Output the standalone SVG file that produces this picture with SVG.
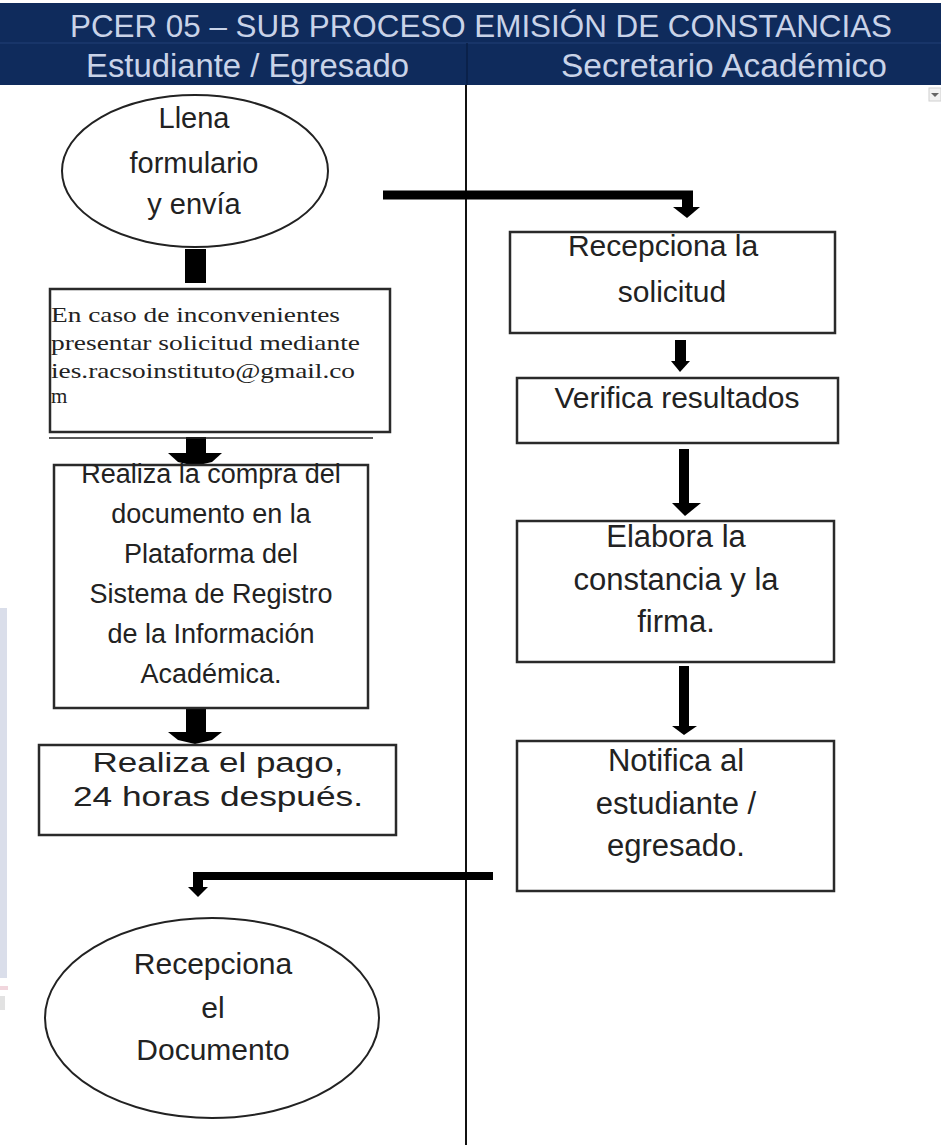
<svg xmlns="http://www.w3.org/2000/svg" width="941" height="1145" viewBox="0 0 941 1145">
<style>
.hdr{fill:#c9d3e8;font-family:"Liberation Sans",Arial,sans-serif;font-size:34px}
.ttl{font-size:32px}
.box{fill:#fff;stroke:#2a2a2a;stroke-width:2.5}
.t{fill:#222;font-family:"Liberation Sans",Arial,sans-serif;font-size:27px;text-anchor:middle}
.r{font-size:30px}
.r2{font-size:31px}
.s{fill:#222;font-family:"Liberation Serif","Times New Roman",serif;font-size:21px}
.k{fill:#000}
.kl{stroke:#000;fill:none}
</style>
<rect width="941" height="1145" fill="#fff"/>
<!-- watermark remnants -->
<rect x="0" y="608" width="7" height="370" fill="#dadeea"/>
<rect x="0" y="986" width="8" height="4" fill="#f1d6dd"/>
<rect x="0" y="996" width="5" height="14" fill="#e2e2e2"/>
<!-- header -->
<g id="header">
<rect x="0" y="3" width="941" height="82" fill="#0f2b5c"/>
<line x1="0" y1="43" x2="941" y2="43" stroke="#1c3a6e" stroke-width="1.5"/>
<line x1="467" y1="43" x2="467" y2="85" stroke="#0a1f45" stroke-width="1.5"/>
<text class="hdr ttl" x="70" y="37" textLength="822" lengthAdjust="spacingAndGlyphs">PCER 05 – SUB PROCESO EMISIÓN DE CONSTANCIAS</text>
<text class="hdr" x="86" y="77" textLength="323" lengthAdjust="spacingAndGlyphs">Estudiante / Egresado</text>
<text class="hdr" x="561" y="77" textLength="326" lengthAdjust="spacingAndGlyphs">Secretario Académico</text>
</g>
<!-- lane divider -->
<line x1="466" y1="85" x2="466" y2="1145" stroke="#111" stroke-width="2"/>
<!-- dropdown icon -->
<g id="dropdown">
<rect x="929" y="88" width="12" height="13" fill="#f2f2f2" stroke="#d0d0d0" stroke-width="1"/>
<polygon points="931,93 939,93 935,97" fill="#666"/>
</g>
<!-- connectors -->
<g id="connectors">
<line class="kl" x1="383" y1="195" x2="693" y2="195" stroke-width="9"/>
<rect class="k" x="682" y="191" width="11" height="18"/>
<polygon class="k" points="673,207 700,207 687,218"/>
<rect class="k" x="675" y="340" width="11" height="23"/>
<polygon class="k" points="671,361 690,361 680,372"/>
<rect class="k" x="679" y="449" width="10" height="56"/>
<polygon class="k" points="672,503 701,503 685,516"/>
<rect class="k" x="679" y="666" width="10" height="62"/>
<polygon class="k" points="672,726 697,726 684,735"/>
<line class="kl" x1="194" y1="876" x2="493" y2="876" stroke-width="8"/>
<rect class="k" x="193" y="872" width="10" height="17"/>
<polygon class="k" points="188,887 208,887 198,897"/>
<rect class="k" x="185" y="249" width="21" height="34"/>
<rect class="k" x="186" y="437" width="20" height="18"/>
<polygon class="k" points="168,453 222,453 212,462 195,466 178,462"/>
<rect class="k" x="186" y="700" width="20" height="34"/>
<polygon class="k" points="168,732 222,732 212,740 195,744 178,740"/>
<line x1="49" y1="438" x2="373" y2="438" stroke="#222" stroke-width="1.5"/>
</g>
<!-- nodes -->
<g id="n-llena">
<ellipse cx="195" cy="171" rx="133" ry="76" fill="#fff" stroke="#222" stroke-width="2"/>
<text class="t" x="194" y="128" style="font-size:29px">Llena</text>
<text class="t" x="194" y="173" style="font-size:29px">formulario</text>
<text class="t" x="194" y="214" style="font-size:29px">y envía</text>
</g>
<g id="n-caso">
<rect class="box" x="50" y="289" width="340" height="143"/>
<text class="s" x="51" y="322" textLength="289" lengthAdjust="spacingAndGlyphs">En caso de inconvenientes</text>
<text class="s" x="51" y="350" textLength="309" lengthAdjust="spacingAndGlyphs">presentar solicitud mediante</text>
<text class="s" x="51" y="378" textLength="304" lengthAdjust="spacingAndGlyphs">ies.racsoinstituto@gmail.co</text>
<text class="s" x="51" y="403">m</text>
</g>
<g id="n-compra">
<rect class="box" x="54" y="465" width="314" height="243"/>
<text class="t" x="211" y="483">Realiza la compra del</text>
<text class="t" x="211" y="523">documento en la</text>
<text class="t" x="211" y="563">Plataforma del</text>
<text class="t" x="211" y="603">Sistema de Registro</text>
<text class="t" x="211" y="643">de la Información</text>
<text class="t" x="211" y="683">Académica.</text>
</g>
<g id="n-pago">
<rect class="box" x="39" y="745" width="357" height="90"/>
<text class="t" x="218" y="772" textLength="251" lengthAdjust="spacingAndGlyphs">Realiza el pago,</text>
<text class="t" x="218" y="806" textLength="290" lengthAdjust="spacingAndGlyphs">24 horas después.</text>
</g>
<g id="n-recepciona-doc">
<ellipse cx="212" cy="1018" rx="167" ry="100" fill="#fff" stroke="#222" stroke-width="2"/>
<text class="t r" x="213" y="974">Recepciona</text>
<text class="t r" x="213" y="1018">el</text>
<text class="t r" x="213" y="1060">Documento</text>
</g>
<g id="n-recepciona-sol">
<rect class="box" x="510" y="232" width="325" height="101"/>
<text class="t r" x="663" y="256">Recepciona la</text>
<text class="t r" x="672" y="302">solicitud</text>
</g>
<g id="n-verifica">
<rect class="box" x="517" y="378" width="321" height="65"/>
<text class="t r" x="677" y="408">Verifica resultados</text>
</g>
<g id="n-elabora">
<rect class="box" x="517" y="521" width="317" height="141"/>
<text class="t r2" x="676" y="547">Elabora la</text>
<text class="t r2" x="676" y="590">constancia y la</text>
<text class="t r2" x="676" y="632">firma.</text>
</g>
<g id="n-notifica">
<rect class="box" x="517" y="741" width="317" height="150"/>
<text class="t r2" x="676" y="771">Notifica al</text>
<text class="t r2" x="676" y="814">estudiante /</text>
<text class="t r2" x="676" y="856">egresado.</text>
</g>
</svg>
